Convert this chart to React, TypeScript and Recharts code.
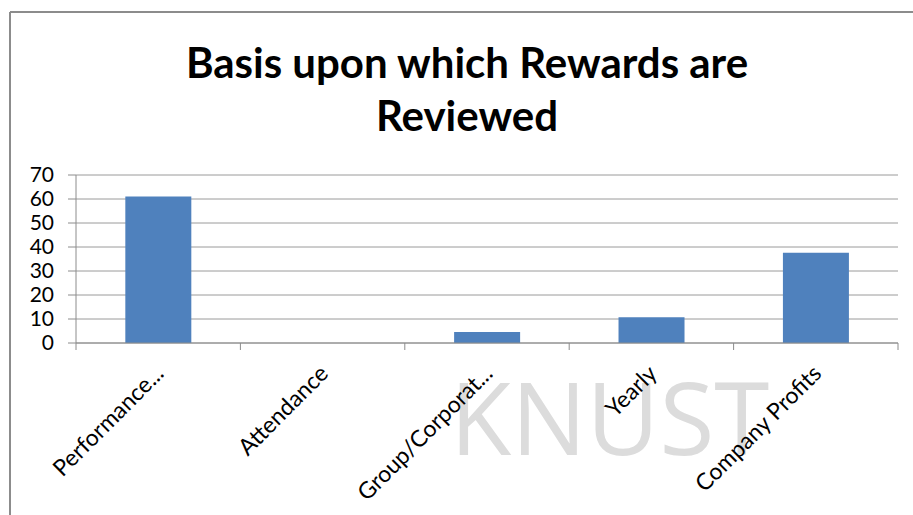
import React from "react";
import { BarChart, Bar, XAxis, YAxis, CartesianGrid } from "recharts";

const categories = [
  "Performance...",
  "Attendance",
  "Group/Corporat...",
  "Yearly",
  "Company Profits",
];
const values = [61, 0, 4.6, 10.7, 37.6];
const yTicks = [0, 10, 20, 30, 40, 50, 60, 70];

const W = 913;
const H = 515;
const MARGIN = { top: 175, right: 15, left: 16, bottom: 22 };
const Y_AXIS_W = 60;
const PLOT_LEFT = MARGIN.left + Y_AXIS_W;
const PLOT_RIGHT = W - MARGIN.right;
const BAND = (PLOT_RIGHT - PLOT_LEFT) / categories.length;

const AXIS = "#8c8c8c";
const GRID = "#9a9a9a";
const FONT = "Lato, 'Open Sans', sans-serif";

const data = categories.map((name, i) => ({ name, value: values[i] }));

function XTick(props: any) {
  const { x, y, payload, index } = props;
  const lx = x + 7;
  const ly = y + 32;
  return (
    <g>
      <line x1={x - BAND / 2} y1={y} x2={x - BAND / 2} y2={y + 7} stroke={AXIS} />
      {index === categories.length - 1 && (
        <line x1={x + BAND / 2} y1={y} x2={x + BAND / 2} y2={y + 7} stroke={AXIS} />
      )}
      <text
        x={lx}
        y={ly}
        textAnchor="end"
        transform={`rotate(-45, ${lx}, ${ly})`}
        fill="#000"
        fontSize={23}
        fontFamily={FONT}
      >
        {payload.value}
      </text>
    </g>
  );
}

export default function App() {
  return (
    <div style={{ position: "absolute", left: 0, top: 0, width: W, height: H, background: "#fff" }}>
      <svg width={W} height={H} style={{ position: "absolute", left: 0, top: 0 }}>
        <line x1={10} y1={12} x2={W} y2={12} stroke={AXIS} strokeWidth={2} />
        <line x1={10} y1={12} x2={10} y2={H} stroke={AXIS} strokeWidth={2} />
        <text x={450} y={455} fill="#dcdcdc" fontSize={100} fontFamily="'Open Sans', sans-serif">
          KNUST
        </text>
        <text x={467} y={78} textAnchor="middle" fontSize={42} fontWeight={700} fontFamily={FONT}>
          Basis upon which Rewards are
        </text>
        <text x={467} y={131} textAnchor="middle" fontSize={42} fontWeight={700} fontFamily={FONT}>
          Reviewed
        </text>
      </svg>
      <div style={{ position: "absolute", left: 0, top: 0 }}>
        <BarChart width={W} height={H} data={data} margin={MARGIN} barCategoryGap="30%">
          <CartesianGrid vertical={false} stroke={GRID} />
          <XAxis
            dataKey="name"
            interval={0}
            height={150}
            tickSize={0}
            tickMargin={0}
            tickLine={false}
            axisLine={{ stroke: AXIS }}
            tick={<XTick />}
          />
          <YAxis
            width={Y_AXIS_W}
            domain={[0, 70]}
            ticks={yTicks}
            interval={0}
            tickSize={8}
            tickMargin={14}
            tickLine={{ stroke: AXIS }}
            axisLine={{ stroke: AXIS }}
            tick={{ fill: "#000", fontSize: 21, fontFamily: FONT }}
          />
          <Bar dataKey="value" fill="#4f81bd" isAnimationActive={false} />
        </BarChart>
      </div>
    </div>
  );
}
